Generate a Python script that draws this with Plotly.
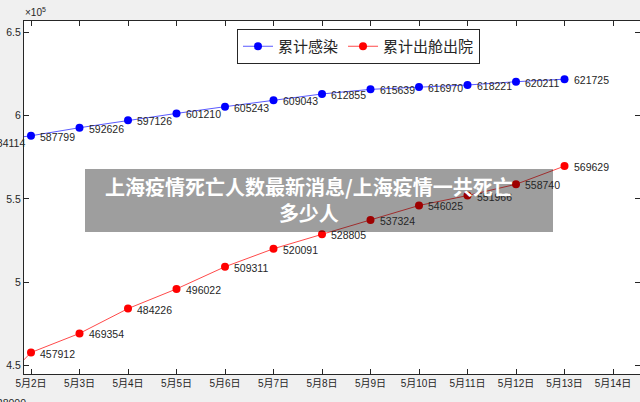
import plotly.graph_objects as go

days = [1, 2, 3, 4, 5, 6, 7, 8, 9, 10, 11, 12, 13]
infected = [584114, 587799, 592626, 597126, 601210, 605243, 609043, 612855,
            615639, 616970, 618221, 620211, 621725]
discharged = [428000, 457912, 469354, 484226, 496022, 509311, 520091, 528805,
              537324, 546025, 551966, 558740, 569629]
tick_days = list(range(2, 15))
tick_labels = [f"5月{d}日" for d in tick_days]
ytick_vals = [450000, 500000, 550000, 600000, 650000]
ytick_labels = ["4.5", "5", "5.5", "6", "6.5"]
series_names = ["累计感染", "累计出舱出院"]

AX = "#262626"
NUMFONT = "Liberation Sans, Arial, sans-serif"
CJK = "Noto Sans CJK SC, sans-serif"

XR = [2 - 7 / 48.5, 2 + 616 / 48.5 - 7 / 48.5]
YR = [445024, 656595]


def to_paper(v, r):
    return (v - r[0]) / (r[1] - r[0])


fig = go.Figure()
for name, vals, col, lc in [(series_names[0], infected, "#0000ff", "#5a5aff"),
                            (series_names[1], discharged, "#ff0000", "#ff4a4a")]:
    fig.add_trace(go.Scatter(
        x=days, y=vals, mode="lines+markers", name=name,
        line=dict(color=lc, width=1),
        marker=dict(color=col, size=8),
        cliponaxis=True,
    ))
    for d, v in zip(days, vals):
        inside = XR[0] <= d <= XR[1] and YR[0] <= v <= YR[1]
        kw = dict(x=d, y=v) if inside else dict(
            xref="paper", yref="paper", x=to_paper(d, XR), y=to_paper(v, YR))
        fig.add_annotation(
            **kw, text=str(v), showarrow=False, xanchor="left",
            yanchor="middle", xshift=8, yshift=-1, borderpad=0,
            font=dict(family=NUMFONT, size=10.5, color=AX),
        )

fig.add_annotation(
    xref="paper", yref="paper", x=0, y=1, xanchor="left", yanchor="bottom",
    text="×10<sup>5</sup>", showarrow=False, yshift=1, xshift=-1,
    font=dict(family=NUMFONT, size=10, color=AX),
)

# overlay banner
fig.add_shape(type="rect", xref="paper", yref="paper", layer="above",
              x0=(85 - 24) / 616, x1=(553 - 24) / 616,
              y0=(374 - 232) / 353, y1=(374 - 169) / 353,
              fillcolor="rgba(0,0,0,0.38)", line=dict(width=0))
fig.add_annotation(
    xref="paper", yref="paper", x=(309 - 24) / 616, y=(374 - 200) / 353,
    xanchor="center", yanchor="middle", showarrow=False, align="center",
    text="<b>上海疫情死亡人数最新消息/上海疫情一共死亡<br>多少人</b>",
    font=dict(family=CJK, size=20, color="white"),
)

fig.update_layout(
    width=640, height=402,
    margin=dict(l=24, r=0, t=21, b=28),
    paper_bgcolor="#f0f0f0", plot_bgcolor="white",
    showlegend=True,
    legend=dict(
        orientation="h", x=(237 - 24) / 616, y=(374 - 29) / 353,
        xanchor="left", yanchor="top",
        bgcolor="white", bordercolor=AX, borderwidth=1,
        font=dict(family=CJK, size=15, color=AX),
        itemwidth=30, tracegroupgap=0,
    ),
    xaxis=dict(
        range=XR,
        tickvals=tick_days, ticktext=tick_labels,
        ticks="inside", ticklen=5, tickcolor=AX, mirror="ticks",
        showline=True, linecolor=AX, linewidth=1,
        showgrid=False, zeroline=False,
        tickfont=dict(family="Liberation Sans, Noto Sans CJK SC", size=10, color=AX),
    ),
    yaxis=dict(
        range=YR,
        tickvals=ytick_vals, ticktext=ytick_labels,
        ticks="inside", ticklen=5, tickcolor=AX, mirror="ticks",
        showline=True, linecolor=AX, linewidth=1,
        showgrid=False, zeroline=False,
        tickfont=dict(family=NUMFONT, size=10.5, color=AX),
    ),
)

fig.write_html("out.html")
